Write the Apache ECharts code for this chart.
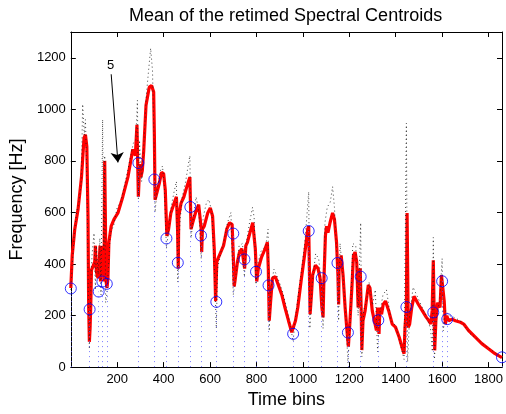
<!DOCTYPE html>
<html><head><meta charset="utf-8">
<script src="https://cdn.jsdelivr.net/npm/echarts@6/dist/echarts.min.js"></script>
<style>html,body{margin:0;padding:0;background:#fff}#c{width:506px;height:414px}</style>
</head><body><div id="c"></div>
<script>
const titleText = 'Mean of the retimed Spectral Centroids';
const xName = 'Time bins';
const yName = 'Frequency [Hz]';
const xMin = 0, xMax = 1858, xStep = 200;
const yMin = 0, yMax = 1300, yStep = 200;

// smoothed (red) curve: [time bin, Hz]
const smoothed = [[0,307],[6,433],[17,535],[31,611],[46,737],[57,889],[63,902],[69,855],[74,585],[77,231],[80,98],[83,150],[86,243],[89,376],[96,382],[103,408],[106,471],[110,370],[117,345],[121,382],[126,471],[128,332],[131,458],[136,382],[140,471],[143,332],[146,800],[150,800],[152,332],[156,307],[160,345],[164,484],[174,547],[186,573],[203,598],[224,661],[246,737],[267,845],[272,850],[278,820],[285,940],[289,935],[291,661],[297,788],[302,737],[308,762],[314,838],[324,1016],[338,1086],[348,1092],[357,1067],[360,902],[363,649],[371,655],[381,712],[391,756],[400,750],[407,687],[411,585],[414,509],[421,534],[431,598],[445,636],[455,661],[460,534],[463,382],[465,585],[475,636],[487,660],[500,700],[513,737],[518,535],[525,560],[537,598],[551,630],[562,535],[564,446],[567,535],[575,547],[590,598],[601,617],[611,585],[618,459],[624,256],[628,256],[629,408],[637,427],[644,433],[658,471],[672,535],[684,560],[695,554],[701,408],[704,313],[709,345],[718,408],[727,446],[737,459],[744,452],[749,382],[754,471],[761,484],[772,522],[784,560],[789,554],[795,459],[801,332],[808,382],[822,427],[837,459],[847,484],[851,382],[855,180],[861,256],[869,345],[881,351],[894,319],[909,281],[923,230],[938,180],[952,135],[959,129],[968,180],[978,231],[992,332],[1007,433],[1021,535],[1025,547],[1028,383],[1031,205],[1037,281],[1042,357],[1054,395],[1065,383],[1074,345],[1082,231],[1087,193],[1090,320],[1097,509],[1102,547],[1108,522],[1117,560],[1128,598],[1136,573],[1145,484],[1151,357],[1154,243],[1156,383],[1165,433],[1173,357],[1182,231],[1190,142],[1196,79],[1203,180],[1211,307],[1218,433],[1225,446],[1232,408],[1238,231],[1245,345],[1247,383],[1251,231],[1254,66],[1259,180],[1268,218],[1275,218],[1282,319],[1289,307],[1299,218],[1308,180],[1317,142],[1322,231],[1328,129],[1332,231],[1339,205],[1346,243],[1356,256],[1370,218],[1385,167],[1399,155],[1415,116],[1429,71],[1436,52],[1440,154],[1446,231],[1449,598],[1453,598],[1454,154],[1460,167],[1469,231],[1479,275],[1486,269],[1498,243],[1515,218],[1532,193],[1543,180],[1551,167],[1557,218],[1562,414],[1567,408],[1568,65],[1573,180],[1580,250],[1586,256],[1591,231],[1597,357],[1603,351],[1609,256],[1614,167],[1620,199],[1628,180],[1643,186],[1657,180],[1679,174],[1693,167],[1714,142],[1743,116],[1771,91],[1800,71],[1828,52],[1858,37]];

// raw (dotted black) centroids: [time bin, Hz]
const raw = [[0,300],[5,380],[15,520],[25,600],[35,640],[45,720],[51,1020],[58,900],[63,960],[70,700],[75,300],[80,70],[84,200],[88,380],[92,440],[100,520],[106,300],[110,470],[118,360],[125,500],[130,280],[137,960],[142,450],[146,820],[150,250],[155,280],[160,350],[170,520],[185,550],[200,620],[215,640],[230,700],[245,760],[260,830],[270,870],[280,880],[287,1035],[291,650],[296,880],[305,720],[315,870],[325,1050],[335,1150],[344,1237],[352,1150],[360,820],[363,600],[372,690],[385,760],[395,780],[403,700],[412,460],[420,520],[432,620],[445,680],[455,720],[461,330],[470,560],[480,660],[495,720],[507,790],[513,820],[518,500],[530,600],[540,660],[552,600],[562,420],[570,580],[585,640],[595,650],[608,600],[620,350],[627,150],[632,380],[645,440],[660,490],[675,560],[690,600],[700,280],[712,360],[725,470],[740,480],[748,350],[756,480],[770,560],[783,620],[790,580],[798,320],[805,400],[820,450],[840,470],[850,535],[855,140],[862,300],[875,380],[890,350],[910,300],[930,230],[950,140],[958,100],[965,170],[980,280],[995,380],[1010,500],[1025,680],[1030,150],[1040,320],[1055,440],[1068,420],[1081,320],[1087,150],[1095,560],[1105,620],[1118,640],[1128,700],[1136,620],[1149,380],[1154,180],[1160,480],[1175,330],[1185,200],[1194,15],[1205,200],[1215,480],[1228,470],[1238,200],[1249,560],[1254,40],[1262,220],[1275,260],[1285,330],[1300,240],[1312,300],[1322,60],[1330,200],[1345,280],[1360,300],[1380,180],[1400,160],[1420,90],[1436,30],[1446,946],[1451,20],[1460,200],[1475,310],[1490,280],[1510,240],[1530,200],[1550,150],[1558,60],[1562,503],[1567,30],[1575,200],[1590,260],[1600,421],[1605,140],[1615,220],[1630,200],[1660,190],[1690,170],[1720,130],[1750,110],[1790,80],[1830,55],[1858,35]];

// retimed markers (blue circles): [time bin, Hz]
const markers = [[0,305],[81,224],[120,293],[136,332],[155,323],[291,792],[360,728],[412,499],[461,405],[515,621],[561,510],[627,253],[700,518],[748,418],[798,370],[852,317],[958,129],[1025,528],[1081,345],[1149,404],[1194,134],[1249,351],[1325,182],[1446,233],[1562,212],[1600,333],[1622,186],[1858,38]];

// annotation
const noteText = '5';
const noteAt = [171, 1172];
const arrowFrom = [174, 1136];
const arrowTo = [203, 794];

const FONT = "'Liberation Sans', Arial, Helvetica, sans-serif";
const chart = echarts.init(document.getElementById('c'), null, {renderer: 'canvas'});

const axisLine = {show: true, onZero: false, lineStyle: {color: '#000', width: 1}};
const tick = {show: true, inside: true, length: 5, lineStyle: {color: '#000', width: 1}};

chart.setOption({
  animation: false,
  backgroundColor: '#fff',
  title: {text: titleText, left: 124, top: 2,
    textStyle: {fontFamily: FONT, fontSize: 18, fontWeight: 'normal', color: '#000'}},
  grid: {left: 68, right: 4, top: 32, bottom: 40, containLabel: false},
  xAxis: [
    {type: 'value', min: xMin, max: xMax, interval: xStep, position: 'bottom',
      axisLine, axisTick: tick, splitLine: {show: false},
      axisLabel: {color: '#000', fontFamily: FONT, fontSize: 13, margin: 6,
        formatter: v => (v > 0 && v % xStep === 0) ? String(v) : ''},
      name: xName, nameLocation: 'middle', nameGap: 22,
      nameTextStyle: {fontFamily: FONT, fontSize: 18, color: '#000'}},
    {type: 'value', min: xMin, max: xMax, interval: xStep, position: 'top',
      axisLine, axisTick: tick, splitLine: {show: false}, axisLabel: {show: false}}
  ],
  yAxis: [
    {type: 'value', min: yMin, max: yMax, interval: yStep, position: 'left',
      axisLine, axisTick: tick, splitLine: {show: false},
      axisLabel: {color: '#000', fontFamily: FONT, fontSize: 13, margin: 5,
        formatter: v => (v % yStep === 0) ? String(v) : ''},
      name: yName, nameLocation: 'middle', nameGap: 38,
      nameTextStyle: {fontFamily: FONT, fontSize: 18, color: '#000'}},
    {type: 'value', min: yMin, max: yMax, interval: yStep, position: 'right',
      axisLine, axisTick: tick, splitLine: {show: false}, axisLabel: {show: false}}
  ],
  series: [
    {type: 'line', name: 'stems', data: [], z: 1, silent: true,
      markLine: {silent: true, symbol: ['none', 'none'], animation: false,
        label: {show: false},
        lineStyle: {color: '#5a5aff', width: 1, type: [1, 4], opacity: 0.8},
        data: markers.map(([x, y]) => [{coord: [x, 0]}, {coord: [x, y]}])}},
    {type: 'line', name: 'smoothed', data: smoothed, z: 2, showSymbol: false,
      lineStyle: {color: '#ff0000', width: 3.2}, itemStyle: {color: '#ff0000'}},
    {type: 'line', name: 'raw', data: raw, z: 3, showSymbol: false,
      lineStyle: {color: '#222', width: 1, type: [1, 3], opacity: 0.85}},
    {type: 'scatter', name: 'markers', data: markers, z: 4, symbol: 'circle', symbolSize: 11,
      itemStyle: {color: 'rgba(0,0,0,0)', borderColor: '#0000ff', borderWidth: 1}},
    {type: 'line', name: 'note', data: [], z: 5, silent: true,
      markLine: {silent: true, symbol: ['none', 'arrow'], symbolSize: 10, animation: false,
        label: {show: false},
        itemStyle: {color: '#000'},
        lineStyle: {color: '#000', width: 1, type: 'solid'},
        data: [[{coord: arrowFrom}, {coord: arrowTo, symbol: 'arrow', symbolSize: 10}]]},
      markPoint: {silent: true, symbol: 'circle', symbolSize: 1, itemStyle: {color: 'rgba(0,0,0,0)'},
        label: {show: true, position: 'inside', formatter: noteText, color: '#000', fontFamily: FONT, fontSize: 13},
        data: [{coord: noteAt}]}}
  ]
});
</script></body></html>
